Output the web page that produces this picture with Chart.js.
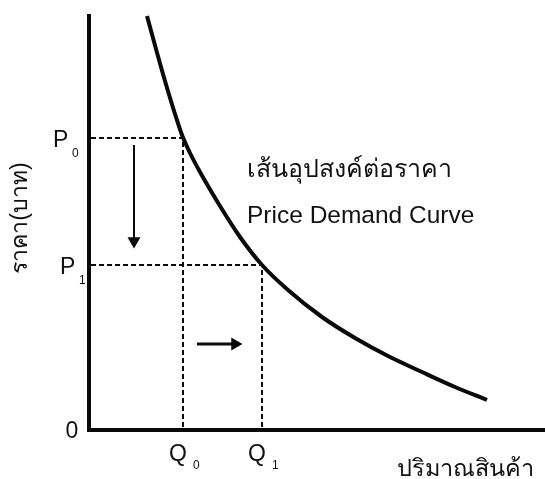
<!DOCTYPE html>
<html>
<head>
<meta charset="utf-8">
<script src="https://cdn.jsdelivr.net/npm/chart.js@4.4.1/dist/chart.umd.min.js"></script>
<style>
  html, body { margin: 0; padding: 0; background: #ffffff; overflow: hidden; }
  canvas { display: block; }
</style>
</head>
<body>
<canvas id="c" width="545" height="479"></canvas>
<script>
// ---- data (quantity on x, price on y) ----
const demandQ = [58, 67, 76, 86, 93, 101, 111, 131, 151, 173, 199, 233, 266, 299, 333, 366, 398];
const demandP = [414, 381, 349, 316, 295, 277, 258, 224, 193, 165, 140, 113, 92, 74, 58, 43, 30];
const eqQ = [94, 173];          // Q0, Q1
const eqP = [292, 165];         // P0, P1
const axisMax = [456, 416];     // x max, y max
const priceArrowQ = [45, 45];   const priceArrowP = [285, 189];
const qtyArrowQ = [108, 146];   const qtyArrowP = [86, 86];
const tickLabelsQ = ['Q', 'Q'];  const tickSubsQ = ['0', '1'];
const tickLabelsP = ['P', 'P'];  const tickSubsP = ['0', '1'];
const originLabel = '0';
const curveTitleTh = 'เส้นอุปสงค์ต่อราคา';
const curveTitleEn = 'Price Demand Curve';
const yTitle = 'ราคา(บาท)';
const xTitle = 'ปริมาณสินค้า';

const pts = (xs, ys) => xs.map((x, i) => ({ x, y: ys[i] }));
const LATIN = '"Liberation Sans", Arial, sans-serif';
const THAI = '"Liberation Sans", "DejaVu Sans", sans-serif';

const labelsPlugin = {
  id: 'labels',
  afterDraw(chart) {
    const { ctx, scales: { x, y } } = chart;
    const x0 = x.getPixelForValue(0), y0 = y.getPixelForValue(0);
    ctx.save();
    ctx.fillStyle = '#111';
    ctx.textBaseline = 'alphabetic';
    ctx.textAlign = 'left';
    // P labels
    const pOff = [-36, -29];
    eqP.forEach((p, i) => {
      const py = y.getPixelForValue(p);
      ctx.font = '23px ' + LATIN;
      ctx.fillText(tickLabelsP[i], x0 + pOff[i], py + 9);
      ctx.font = '12px ' + LATIN;
      ctx.fillText(tickSubsP[i], x0 + pOff[i] + 19, py + 19);
    });
    // Q labels
    eqQ.forEach((q, i) => {
      const qx = x.getPixelForValue(q);
      ctx.font = '23px ' + LATIN;
      ctx.fillText(tickLabelsQ[i], qx - 14, y0 + 31);
      ctx.font = '12px ' + LATIN;
      ctx.fillText(tickSubsQ[i], qx + 10, y0 + 39);
    });
    // origin
    ctx.font = '23px ' + LATIN;
    ctx.textAlign = 'center';
    ctx.fillText(originLabel, x0 - 17, y0 + 8);
    ctx.textAlign = 'left';
    // curve titles
    ctx.font = '25px ' + THAI;
    ctx.fillText(curveTitleTh, 247, 177);
    ctx.font = '24.5px ' + LATIN;
    ctx.fillText(curveTitleEn, 247, 223);
    // x title
    ctx.font = '23.5px ' + THAI;
    ctx.fillText(xTitle, 397, 476);
    // y title rotated
    ctx.translate(27, 218);
    ctx.rotate(-Math.PI / 2);
    ctx.textAlign = 'center';
    ctx.font = '23px ' + THAI;
    ctx.fillText(yTitle, 0, 0);
    ctx.restore();
  }
};

const black = '#0a0a0a';
new Chart(document.getElementById('c'), {
  type: 'line',
  data: {
    datasets: [
      { data: pts([0, 0, axisMax[0]], [axisMax[1], 0, 0]), borderColor: black, borderWidth: 4,
        pointRadius: 0, tension: 0, borderJoinStyle: 'miter', clip: false },
      { data: pts([2, eqQ[0], eqQ[0]], [eqP[0], eqP[0], 0]), borderColor: black, borderWidth: 2,
        borderDash: [5, 3], pointRadius: 0, tension: 0, clip: false },
      { data: pts([2, eqQ[1], eqQ[1]], [eqP[1], eqP[1], 0]), borderColor: black, borderWidth: 2,
        borderDash: [5, 3], pointRadius: 0, tension: 0, clip: false },
      { data: pts(demandQ, demandP), borderColor: black, borderWidth: 4, pointRadius: 0,
        cubicInterpolationMode: 'monotone', clip: false },
      { data: pts(priceArrowQ, priceArrowP), borderColor: black, borderWidth: 2, tension: 0,
        pointRadius: [0, 7.5], pointStyle: 'triangle', rotation: 180,
        pointBackgroundColor: black, pointBorderWidth: 0, clip: false },
      { data: pts(qtyArrowQ, qtyArrowP), borderColor: black, borderWidth: 3, tension: 0,
        pointRadius: [0, 7.5], pointStyle: 'triangle', rotation: 90,
        pointBackgroundColor: black, pointBorderWidth: 0, clip: false }
    ]
  },
  options: {
    responsive: false,
    animation: false,
    layout: { autoPadding: false, padding: { left: 89, right: 0, top: 14, bottom: 49 } },
    scales: {
      x: { type: 'linear', min: 0, max: axisMax[0], display: false },
      y: { type: 'linear', min: 0, max: axisMax[1], display: false }
    },
    plugins: { legend: { display: false }, tooltip: { enabled: false } },
    events: []
  },
  plugins: [labelsPlugin]
});
</script>
</body>
</html>
